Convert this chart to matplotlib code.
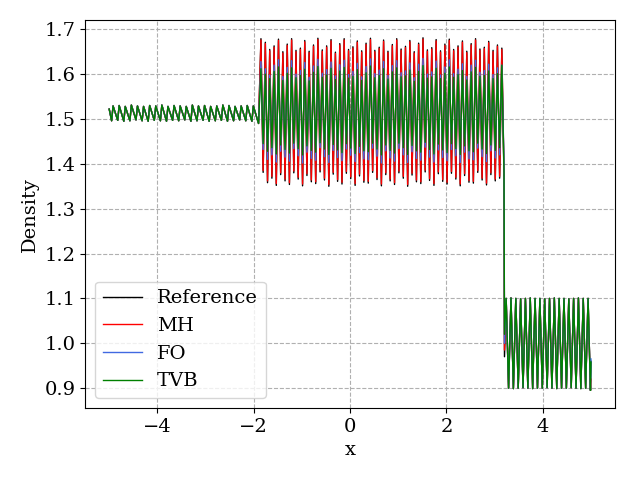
import numpy as np
import matplotlib
matplotlib.use("Agg")
import matplotlib.pyplot as plt

plt.rcParams['font.family'] = ['DejaVu Serif']
plt.rcParams['font.size'] = 14

# ---------------- data ----------------
series_names = ["Reference", "MH", "FO", "TVB"]
series_colors = ["black", "red", "royalblue", "green"]

# pre-shock region (x from -5 to -1.9), shared by all schemes
left_start = 1.522
left_troughs = [1.496, 1.497, 1.495, 1.496, 1.498, 1.496, 1.495, 1.497, 1.496, 1.495, 1.497, 1.496,
                1.498, 1.495, 1.496, 1.497, 1.495, 1.496, 1.497, 1.495, 1.496, 1.498, 1.496, 1.495]
left_peaks = [1.529, 1.530, 1.528, 1.531, 1.529, 1.528, 1.530, 1.529, 1.531, 1.528, 1.530, 1.529,
              1.528, 1.531, 1.529, 1.530, 1.528, 1.529, 1.531, 1.530, 1.528, 1.529, 1.530, 1.529]
left_end = 1.490

# post-shock oscillatory region (x from -1.9 to 3.2)
ref_peaks = [1.679, 1.671, 1.655, 1.663, 1.678, 1.650, 1.667, 1.679, 1.653, 1.658, 1.675, 1.651, 1.665, 1.680,
             1.654, 1.663, 1.677, 1.649, 1.668, 1.679, 1.655, 1.661, 1.674, 1.652, 1.669, 1.680, 1.653, 1.660,
             1.676, 1.651, 1.666, 1.679, 1.656, 1.662, 1.675, 1.650, 1.669, 1.681, 1.654, 1.659, 1.677, 1.652,
             1.667, 1.678, 1.655, 1.663, 1.674, 1.651, 1.668, 1.679, 1.656, 1.660, 1.673, 1.653, 1.665, 1.658]
ref_troughs = [1.381, 1.358, 1.368, 1.352, 1.376, 1.362, 1.354, 1.380, 1.366, 1.351, 1.374, 1.360, 1.356, 1.382,
               1.364, 1.350, 1.377, 1.361, 1.355, 1.379, 1.367, 1.352, 1.373, 1.359, 1.357, 1.381, 1.365, 1.351,
               1.376, 1.362, 1.354, 1.380, 1.368, 1.350, 1.375, 1.360, 1.356, 1.382, 1.363, 1.352, 1.378, 1.361,
               1.355, 1.379, 1.366, 1.351, 1.374, 1.359, 1.357, 1.381, 1.364, 1.353, 1.376, 1.362, 1.368, 1.365]
mh_peaks = [1.676, 1.668, 1.652, 1.660, 1.675, 1.647, 1.664, 1.676, 1.650, 1.655, 1.672, 1.648, 1.662, 1.677,
            1.651, 1.660, 1.674, 1.646, 1.665, 1.676, 1.652, 1.658, 1.671, 1.649, 1.666, 1.677, 1.650, 1.657,
            1.673, 1.648, 1.663, 1.676, 1.653, 1.659, 1.672, 1.647, 1.666, 1.678, 1.651, 1.656, 1.674, 1.649,
            1.664, 1.675, 1.652, 1.660, 1.671, 1.648, 1.665, 1.676, 1.653, 1.657, 1.670, 1.650, 1.662, 1.655]
mh_troughs = [1.385, 1.362, 1.372, 1.356, 1.380, 1.366, 1.358, 1.384, 1.370, 1.355, 1.378, 1.364, 1.360, 1.386,
              1.368, 1.354, 1.381, 1.365, 1.359, 1.383, 1.371, 1.356, 1.377, 1.363, 1.361, 1.385, 1.369, 1.355,
              1.380, 1.366, 1.358, 1.384, 1.372, 1.354, 1.379, 1.364, 1.360, 1.386, 1.367, 1.356, 1.382, 1.365,
              1.359, 1.383, 1.370, 1.355, 1.378, 1.363, 1.361, 1.385, 1.368, 1.357, 1.380, 1.366, 1.372, 1.378]
fo_peaks = [1.628, 1.612, 1.598, 1.620, 1.632, 1.595, 1.615, 1.630, 1.600, 1.608, 1.626, 1.593, 1.618, 1.633,
            1.602, 1.610, 1.627, 1.596, 1.621, 1.631, 1.599, 1.606, 1.624, 1.594, 1.617, 1.634, 1.601, 1.609,
            1.628, 1.597, 1.619, 1.630, 1.603, 1.607, 1.625, 1.592, 1.622, 1.635, 1.600, 1.605, 1.629, 1.598,
            1.616, 1.632, 1.601, 1.611, 1.623, 1.595, 1.620, 1.631, 1.604, 1.608, 1.622, 1.599, 1.614, 1.620]
fo_troughs = [1.432, 1.410, 1.420, 1.404, 1.428, 1.415, 1.406, 1.434, 1.418, 1.402, 1.426, 1.412, 1.408, 1.436,
              1.416, 1.403, 1.430, 1.414, 1.407, 1.433, 1.419, 1.405, 1.425, 1.411, 1.409, 1.435, 1.417, 1.402,
              1.429, 1.413, 1.406, 1.434, 1.420, 1.403, 1.427, 1.412, 1.408, 1.437, 1.415, 1.404, 1.431, 1.414,
              1.407, 1.432, 1.418, 1.403, 1.426, 1.411, 1.409, 1.435, 1.416, 1.405, 1.429, 1.413, 1.420, 1.400]
tvb_peaks = [1.612, 1.600, 1.590, 1.606, 1.616, 1.586, 1.602, 1.614, 1.592, 1.597, 1.611, 1.585, 1.604, 1.617,
             1.593, 1.598, 1.613, 1.588, 1.607, 1.615, 1.591, 1.595, 1.610, 1.586, 1.603, 1.618, 1.592, 1.597,
             1.612, 1.589, 1.605, 1.614, 1.594, 1.596, 1.609, 1.584, 1.606, 1.619, 1.591, 1.594, 1.613, 1.590,
             1.602, 1.616, 1.593, 1.599, 1.608, 1.587, 1.605, 1.615, 1.595, 1.597, 1.607, 1.590, 1.601, 1.620]
tvb_troughs = [1.445, 1.428, 1.436, 1.422, 1.442, 1.432, 1.424, 1.446, 1.434, 1.420, 1.440, 1.430, 1.426, 1.447,
               1.433, 1.421, 1.443, 1.431, 1.425, 1.445, 1.435, 1.423, 1.439, 1.429, 1.427, 1.446, 1.433, 1.420,
               1.442, 1.430, 1.424, 1.446, 1.436, 1.421, 1.441, 1.429, 1.426, 1.448, 1.432, 1.422, 1.444, 1.431,
               1.425, 1.445, 1.434, 1.421, 1.440, 1.429, 1.427, 1.446, 1.433, 1.423, 1.442, 1.430, 1.436, 1.380]

# shock foot values and values at x = 5
shock_foot = [0.970, 0.985, 1.000, 1.020]
end_values = [0.960, 0.920, 0.965, 0.958]

# pre-shock entropy wave (x from 3.2 to 5), shared
right_peaks = [1.100, 1.101, 1.100, 1.099, 1.100, 1.101, 1.100, 1.100, 1.099,
               1.100, 1.101, 1.100, 1.100, 1.099, 1.100, 1.101, 1.100, 1.100]
right_troughs = [0.900, 0.899, 0.900, 0.901, 0.900, 0.899, 0.900, 0.900, 0.901,
                 0.900, 0.899, 0.900, 0.900, 0.901, 0.900, 0.899, 0.900, 0.895]

# ---------------- sampling grid ----------------
left_period = 0.1266
left_trough_x = -4.95 + left_period * np.arange(len(left_troughs))
left_peak_x = left_trough_x + 0.03
mid_peak_x = np.linspace(-1.85, 3.15, len(mh_peaks))
mid_half = (mid_peak_x[1] - mid_peak_x[0]) / 2
mid_trough_x = mid_peak_x + mid_half
right_peak_x = 3.24 + 0.1 * np.arange(len(right_peaks))
right_trough_x = right_peak_x + 0.05


def interleave(a, b):
    out = np.empty(len(a) + len(b))
    out[0::2] = a
    out[1::2] = b
    return out


def build(peaks, troughs, foot, end):
    xs = np.concatenate([[-5.0], interleave(left_trough_x, left_peak_x), [-1.9],
                         interleave(mid_peak_x, mid_trough_x), [3.205],
                         interleave(right_peak_x, right_trough_x), [5.0]])
    ys = np.concatenate([[left_start], interleave(left_troughs, left_peaks), [left_end],
                         interleave(peaks, troughs), [foot],
                         interleave(right_peaks, right_troughs), [end]])
    return xs, ys


all_peaks = [ref_peaks, mh_peaks, fo_peaks, tvb_peaks]
all_troughs = [ref_troughs, mh_troughs, fo_troughs, tvb_troughs]

fig, ax = plt.subplots(figsize=(6.4, 4.8), dpi=100)
for name, col, pk, tr, ft, ev in zip(series_names, series_colors, all_peaks, all_troughs,
                                     shock_foot, end_values):
    xs, ys = build(pk, tr, ft, ev)
    ax.plot(xs, ys, color=col, lw=1.0, label=name)

ax.grid(True, linestyle='--', color='#b0b0b0', linewidth=0.8)
ax.set_xlabel('x')
ax.set_ylabel('Density')
ax.set_xticks([-4, -2, 0, 2, 4])
ax.set_yticks([0.9, 1.0, 1.1, 1.2, 1.3, 1.4, 1.5, 1.6, 1.7])
ax.legend(loc='lower left')
fig.subplots_adjust(left=0.133, right=0.961, top=0.958, bottom=0.15)
fig.savefig('out.png', dpi=100)
